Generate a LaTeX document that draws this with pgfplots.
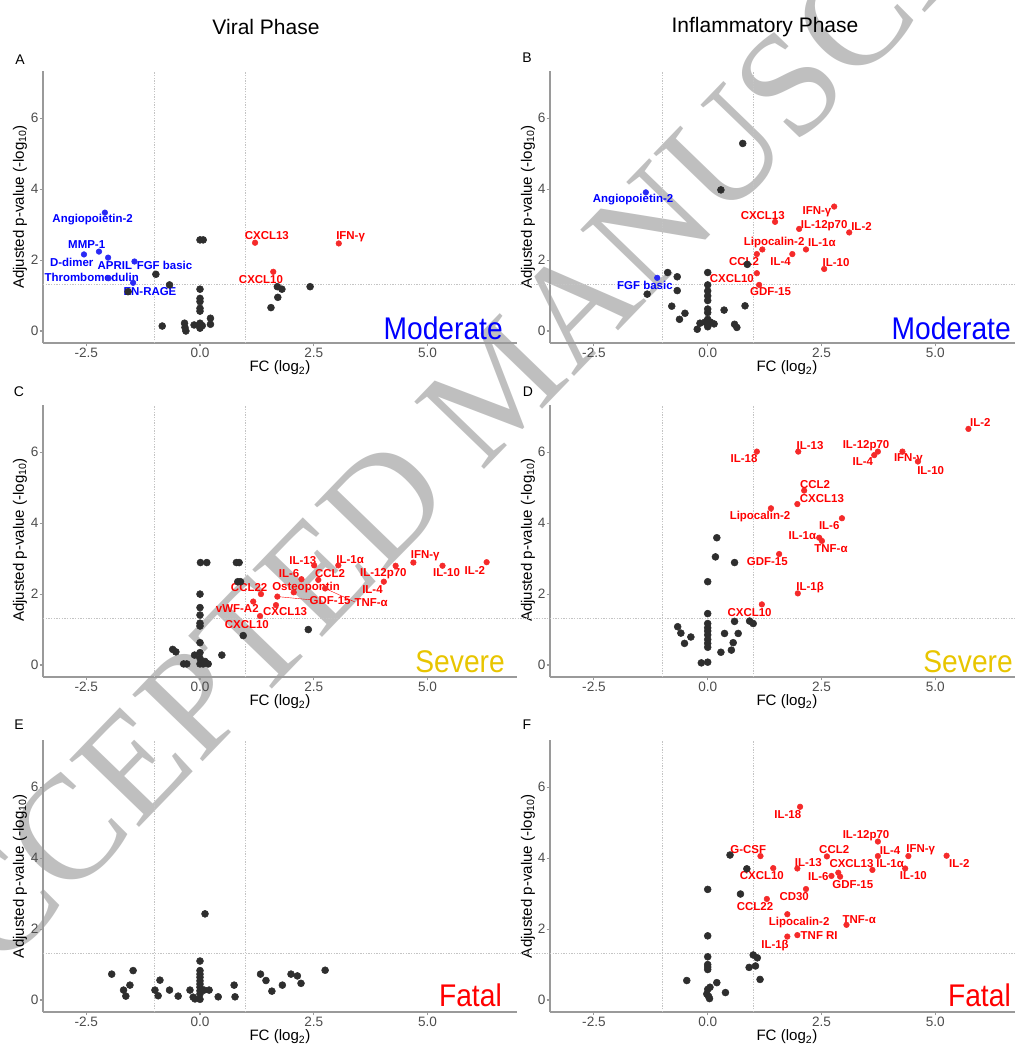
\documentclass[border=0pt]{standalone}
\usepackage{pgfplots}
\pgfplotsset{compat=1.18}
\usepackage{fontspec}
\setmainfont{Liberation Sans}
\newfontfamily\wmfont{Liberation Serif}
\definecolor{ptblack}{HTML}{2E2E2E}
\definecolor{ptred}{HTML}{F52A2A}
\definecolor{ptblue}{HTML}{2A2AF5}
\definecolor{txtred}{HTML}{FF0000}
\definecolor{txtblue}{HTML}{0000FF}
\definecolor{sevgold}{HTML}{E8C500}
\definecolor{axgray}{HTML}{9A9A9A}
\definecolor{refgray}{HTML}{C4C4C4}
\definecolor{ticktxt}{HTML}{4D4D4D}

\pgfplotsset{
  volc/.style={
    scale only axis, height=204pt, anchor=south west,
    ymin=-0.3385, ymax=7.334,
    axis x line*=bottom, axis y line*=left,
    axis line style={-, axgray, line width=1.1pt},
    xtick={-2.5,0,2.5,5}, xticklabels={-2.5,0.0,2.5,5.0},
    ytick={0,2,4,6}, yticklabels={0,2,4,6},
    tick align=outside, major tick length=2.5pt,
    tick style={axgray, line width=0.8pt},
    ticklabel style={font=\fontsize{10.2}{12}\selectfont, text=ticktxt},
    xticklabel style={inner sep=1pt},
    yticklabel style={inner sep=0.8pt},
    clip=false,
  },
  leftcol/.style={volc, width=355.5pt, xmin=-3.4505, xmax=6.967},
  rightcol/.style={volc, width=348.75pt, xmin=-3.466, xmax=6.754},
  blk/.style={only marks, color=ptblack, mark=*, mark size=2.6pt, mark options={draw=none, fill=ptblack}},
  rdp/.style={only marks, color=ptred, mark=*, mark size=2.1pt, mark options={draw=none, fill=ptred}},
  blp/.style={only marks, color=ptblue, mark=*, mark size=2.1pt, mark options={draw=none, fill=ptblue}},
}
\tikzset{
  lab/.style={font=\bfseries\fontsize{8.6}{10}\selectfont, inner sep=0pt},
  rl/.style={lab, text=txtred},
  bl/.style={lab, text=txtblue},
  refl/.style={refgray, dash pattern=on 1pt off 1pt, line width=0.6pt},
}
\newcommand{\reflinesL}{%
  \draw[refl] (axis cs:-1,-0.3385) -- (axis cs:-1,7.334);
  \draw[refl] (axis cs:1,-0.3385) -- (axis cs:1,7.334);
  \draw[refl] (axis cs:-3.4505,1.301) -- (axis cs:7.65,1.301);
}
\newcommand{\reflinesR}{%
  \draw[refl] (axis cs:-1,-0.3385) -- (axis cs:-1,7.334);
  \draw[refl] (axis cs:1,-0.3385) -- (axis cs:1,7.334);
  \draw[refl] (axis cs:-3.466,1.301) -- (axis cs:6.754,1.301);
}

\begin{document}
\begin{tikzpicture}
\begin{scope}[x=0.75pt, y=-0.75pt]
  \path[use as bounding box] (0,0) rectangle (1016,1045);
  \begin{scope}
    \clip (0,0) rectangle (1016,1045);
    \node[rotate=46, inner sep=0pt, font=\wmfont\fontsize{111}{113}\selectfont, text=black!25] at (500,384) {ACCEPTED MANUSCRIPT};
  \end{scope}
  % titles
  \node[font=\fontsize{15.75}{18}\selectfont] at (266,27) {Viral Phase};
  \node[font=\fontsize{15.75}{18}\selectfont] at (765,27) {Inflammatory Phase};
  % panel letters
  \node[font=\fontsize{10.5}{12}\selectfont] at (20,60) {A};
  \node[font=\fontsize{10.5}{12}\selectfont] at (527,58) {B};
  \node[font=\fontsize{10.5}{12}\selectfont] at (19,392) {C};
  \node[font=\fontsize{10.5}{12}\selectfont] at (528,392) {D};
  \node[font=\fontsize{10.5}{12}\selectfont] at (19,725) {E};
  \node[font=\fontsize{10.5}{12}\selectfont] at (527,725) {F};
  % axis titles
  \foreach \yy in {368,702,1037} {
    \node[font=\fontsize{11.3}{13}\selectfont] at (280,\yy) {FC (log\textsubscript{2})};
    \node[font=\fontsize{11.3}{13}\selectfont] at (787,\yy) {FC (log\textsubscript{2})};
  }
  \foreach \yy in {207,540,876} {
    \node[rotate=90, font=\fontsize{11.3}{13}\selectfont] at (20,\yy) {Adjusted p-value (-log\textsubscript{10})};
    \node[rotate=90, font=\fontsize{11.3}{13}\selectfont] at (528,\yy) {Adjusted p-value (-log\textsubscript{10})};
  }
\end{scope}

% ---------------- Panel A ----------------
\begin{axis}[leftcol, at={(32.25pt,-257.25pt)}]
\reflinesL
\addplot[blk] coordinates {(-1.58,1.11)(-0.97,1.60)(-0.67,1.30)(0.0,2.57)(0.07,2.57)(0,1.18)(0,0.92)(0,0.83)(0,0.64)(0,0.56)(0,0.22)(0,0.14)(0,0.08)(0.05,0.15)(-0.13,0.17)(-0.34,0.22)(-0.33,0.10)(-0.31,0.0)(-0.83,0.14)(0.23,0.36)(0.23,0.19)(1.56,0.66)(1.71,0.95)(1.70,1.25)(1.80,1.18)(2.42,1.25)};
\addplot[blp] coordinates {(-2.09,3.34)(-2.55,2.16)(-2.22,2.24)(-2.02,2.07)(-1.44,1.96)(-2.01,1.49)(-1.47,1.36)};
\addplot[rdp] coordinates {(1.21,2.49)(1.61,1.67)(3.05,2.47)};
\node[bl] at (axis cs:-2.36,3.13) {Angiopoietin-2};
\node[bl] at (axis cs:-2.49,2.43) {MMP-1};
\node[bl] at (axis cs:-2.82,1.93) {D-dimer};
\node[bl] at (axis cs:-1.87,1.86) {APRIL};
\node[bl] at (axis cs:-0.78,1.86) {FGF basic};
\node[bl] at (axis cs:-2.38,1.51) {Thrombomodulin};
\node[bl] at (axis cs:-1.10,1.11) {EN-RAGE};
\node[rl] at (axis cs:1.47,2.68) {CXCL13};
\node[rl] at (axis cs:3.31,2.66) {IFN-γ};
\node[rl] at (axis cs:1.34,1.44) {CXCL10};
\end{axis}

% ---------------- Panel B ----------------
\begin{axis}[rightcol, at={(412.5pt,-257.25pt)}]
\reflinesR
\addplot[blk] coordinates {(0.77,5.29)(0.29,3.98)(0.87,1.88)(-0.88,1.65)(-0.67,1.53)(-1.33,1.04)(-0.67,1.14)(-0.79,0.70)(-0.50,0.50)(-0.62,0.33)(0,1.65)(0,1.30)(0,1.13)(0,0.99)(0,0.86)(0,0.62)(0,0.52)(0,0.33)(0,0.23)(-0.06,0.25)(0.06,0.25)(-0.17,0.22)(0.14,0.20)(0,0.12)(-0.23,0.05)(0.36,0.59)(0.82,0.71)(0.59,0.19)(0.64,0.10)};
\addplot[blp] coordinates {(-1.36,3.91)(-1.11,1.50)};
\addplot[rdp] coordinates {(1.48,3.08)(2.78,3.51)(2.01,2.88)(3.11,2.78)(1.20,2.30)(2.16,2.30)(1.08,2.17)(1.86,2.17)(2.56,1.75)(1.08,1.63)(1.13,1.30)};
\node[bl] at (axis cs:-1.64,3.70) {Angiopoietin-2};
\node[bl] at (axis cs:-1.38,1.30) {FGF basic};
\node[rl] at (axis cs:1.21,3.27) {CXCL13};
\node[rl] at (axis cs:2.40,3.35) {IFN-γ};
\node[rl] at (axis cs:2.56,2.96) {IL-12p70};
\node[rl] at (axis cs:3.38,2.96) {IL-2};
\node[rl] at (axis cs:1.46,2.49) {Lipocalin-2};
\node[rl] at (axis cs:2.51,2.49) {IL-1α};
\node[rl] at (axis cs:0.80,1.96) {CCL2};
\node[rl] at (axis cs:1.60,1.96) {IL-4};
\node[rl] at (axis cs:2.82,1.93) {IL-10};
\node[rl] at (axis cs:0.53,1.49) {CXCL10};
\node[rl] at (axis cs:1.38,1.11) {GDF-15};
\end{axis}

% ---------------- Panel C ----------------
\begin{axis}[leftcol, at={(32.25pt,-507.75pt)}]
\reflinesL
\addplot[blk] coordinates {(0.01,2.89)(0.15,2.89)(0.80,2.89)(0.86,2.89)(0.83,2.35)(0.89,2.35)(0,2.0)(0,1.62)(0,1.41)(0,1.18)(0,1.10)(0,0.63)(0,0.35)(0,0.19)(0,0.03)(0.11,0.10)(0.18,0.03)(-0.12,0.28)(-0.60,0.44)(-0.53,0.37)(-0.36,0.03)(-0.29,0.03)(0.07,0.03)(0.48,0.28)(0.95,0.83)(2.38,1.0)};
\draw[txtred, line width=0.3pt] (axis cs:1.70,1.93) -- (axis cs:2.43,1.84);
\draw[txtred, line width=0.3pt] (axis cs:2.75,2.16) -- (axis cs:3.40,1.78);
\addplot[rdp] coordinates {(2.51,2.81)(3.04,2.81)(4.69,2.89)(5.33,2.80)(6.30,2.90)(4.30,2.80)(2.23,2.42)(2.60,2.40)(4.04,2.35)(2.06,2.05)(1.34,2.00)(1.70,1.93)(2.75,2.16)(1.17,1.79)(1.67,1.69)(1.32,1.38)};
\node[rl] at (axis cs:2.26,2.96) {IL-13};
\node[rl] at (axis cs:3.30,2.96) {IL-1α};
\node[rl] at (axis cs:4.95,3.08) {IFN-γ};
\node[rl] at (axis cs:4.03,2.59) {IL-12p70};
\node[rl] at (axis cs:5.42,2.60) {IL-10};
\node[rl] at (axis cs:6.04,2.68) {IL-2};
\node[rl] at (axis cs:1.96,2.59) {IL-6};
\node[rl] at (axis cs:2.86,2.59) {CCL2};
\node[rl] at (axis cs:3.79,2.12) {IL-4};
\node[rl] at (axis cs:2.33,2.18) {Osteopontin};
\node[rl] at (axis cs:1.08,2.18) {CCL22};
\node[rl] at (axis cs:2.86,1.83) {GDF-15};
\node[rl] at (axis cs:3.76,1.77) {TNF-α};
\node[rl] at (axis cs:0.82,1.58) {vWF-A2};
\node[rl] at (axis cs:1.87,1.50) {CXCL13};
\node[rl] at (axis cs:1.03,1.13) {CXCL10};
\end{axis}

% ---------------- Panel D ----------------
\begin{axis}[rightcol, at={(412.5pt,-507.75pt)}]
\reflinesR
\addplot[blk] coordinates {(0.20,3.59)(0.17,3.05)(0.59,2.89)(0,2.35)(0,1.45)(0,1.17)(0,1.05)(0,0.96)(0,0.85)(0,0.72)(0,0.61)(0,0.50)(0,0.08)(-0.14,0.06)(-0.66,1.08)(-0.59,0.90)(-0.51,0.61)(-0.37,0.79)(0.37,0.89)(0.59,1.23)(0.67,0.89)(0.56,0.63)(0.52,0.42)(0.29,0.36)(0.92,1.24)(1.0,1.17)};
\addplot[rdp] coordinates {(5.73,6.66)(1.08,6.02)(1.99,6.02)(3.74,6.02)(3.66,5.92)(4.28,6.02)(4.62,5.74)(2.12,4.92)(1.97,4.54)(1.39,4.42)(2.95,4.14)(2.45,3.59)(2.51,3.50)(1.57,3.13)(1.98,2.02)(1.19,1.71)};
\node[rl] at (axis cs:5.99,6.84) {IL-2};
\node[rl] at (axis cs:0.80,5.81) {IL-18};
\node[rl] at (axis cs:2.25,6.19) {IL-13};
\node[rl] at (axis cs:3.48,6.19) {IL-12p70};
\node[rl] at (axis cs:3.41,5.74) {IL-4};
\node[rl] at (axis cs:4.41,5.83) {IFN-γ};
\node[rl] at (axis cs:4.90,5.48) {IL-10};
\node[rl] at (axis cs:2.36,5.10) {CCL2};
\node[rl] at (axis cs:2.51,4.70) {CXCL13};
\node[rl] at (axis cs:1.15,4.20) {Lipocalin-2};
\node[rl] at (axis cs:2.67,3.93) {IL-6};
\node[rl] at (axis cs:2.08,3.64) {IL-1α};
\node[rl] at (axis cs:2.71,3.29) {TNF-α};
\node[rl] at (axis cs:1.31,2.93) {GDF-15};
\node[rl] at (axis cs:2.25,2.18) {IL-1β};
\node[rl] at (axis cs:0.92,1.49) {CXCL10};
\end{axis}

% ---------------- Panel E ----------------
\begin{axis}[leftcol, at={(32.25pt,-759pt)}]
\reflinesL
\addplot[blk] coordinates {(0.11,2.43)(-1.94,0.73)(-1.47,0.83)(-1.54,0.42)(-1.68,0.28)(-1.63,0.11)(-0.88,0.56)(-0.99,0.28)(-0.92,0.12)(-0.67,0.28)(-0.48,0.11)(-0.22,0.28)(-0.15,0.08)(-0.11,0.03)(0,1.10)(0,0.83)(0,0.73)(0,0.64)(0,0.54)(0,0.45)(0,0.36)(0,0.26)(0,0.17)(0,0.02)(0.09,0.28)(0.20,0.28)(0.40,0.09)(0.75,0.42)(0.77,0.09)(1.33,0.73)(1.45,0.55)(1.58,0.25)(1.81,0.42)(2.0,0.73)(2.14,0.68)(2.22,0.47)(2.75,0.84)};
\end{axis}

% ---------------- Panel F ----------------
\begin{axis}[rightcol, at={(412.5pt,-759pt)}]
\reflinesR
\addplot[blk] coordinates {(0.49,4.09)(0.86,3.70)(0,3.12)(0.72,2.99)(0,1.81)(0,1.22)(0,1.00)(0,0.93)(0,0.86)(-0.46,0.55)(0.20,0.49)(0.39,0.21)(0,0.30)(0.05,0.36)(-0.02,0.17)(0.04,0.04)(0.02,0.10)(1.0,1.27)(1.09,1.19)(0.91,0.92)(1.05,0.96)(1.15,0.58)};
\addplot[rdp] coordinates {(2.03,5.45)(3.74,4.47)(3.74,4.06)(4.41,4.06)(5.25,4.07)(2.62,4.05)(1.16,4.06)(1.97,3.71)(1.44,3.72)(3.62,3.67)(4.34,3.71)(2.72,3.50)(2.87,3.59)(2.91,3.48)(2.16,3.13)(1.30,2.85)(1.75,2.42)(3.05,2.12)(1.97,1.83)(1.75,1.79)};
\node[rl] at (axis cs:1.76,5.24) {IL-18};
\node[rl] at (axis cs:3.48,4.64) {IL-12p70};
\node[rl] at (axis cs:2.78,4.25) {CCL2};
\node[rl] at (axis cs:4.01,4.21) {IL-4};
\node[rl] at (axis cs:4.68,4.23) {IFN-γ};
\node[rl] at (axis cs:0.89,4.25) {G-CSF};
\node[rl] at (axis cs:2.21,3.88) {IL-13};
\node[rl] at (axis cs:3.16,3.86) {CXCL13};
\node[rl] at (axis cs:4.01,3.86) {IL-1α};
\node[rl] at (axis cs:5.53,3.86) {IL-2};
\node[rl] at (axis cs:1.19,3.51) {CXCL10};
\node[rl] at (axis cs:2.43,3.48) {IL-6};
\node[rl] at (axis cs:4.52,3.51) {IL-10};
\node[rl] at (axis cs:3.19,3.26) {GDF-15};
\node[rl] at (axis cs:1.90,2.91) {CD30};
\node[rl] at (axis cs:1.04,2.63) {CCL22};
\node[rl] at (axis cs:2.01,2.19) {Lipocalin-2};
\node[rl] at (axis cs:3.33,2.28) {TNF-α};
\node[rl] at (axis cs:2.45,1.83) {TNF RI};
\node[rl] at (axis cs:1.48,1.55) {IL-1β};
\end{axis}

% category labels
\begin{scope}[x=0.75pt, y=-0.75pt]
  \node[anchor=base east, inner sep=0pt, xscale=0.9, font=\fontsize{23.5}{26}\selectfont, text=txtblue] at (503,339) {Moderate};
  \node[anchor=base east, inner sep=0pt, xscale=0.9, font=\fontsize{23.5}{26}\selectfont, text=txtblue] at (1011,339) {Moderate};
  \node[anchor=base east, inner sep=0pt, xscale=0.9, font=\fontsize{23.5}{26}\selectfont, text=sevgold] at (505,672) {Severe};
  \node[anchor=base east, inner sep=0pt, xscale=0.9, font=\fontsize{23.5}{26}\selectfont, text=sevgold] at (1013,672) {Severe};
  \node[anchor=base east, inner sep=0pt, xscale=0.9, font=\fontsize{23.5}{26}\selectfont, text=txtred] at (502,1006) {Fatal};
  \node[anchor=base east, inner sep=0pt, xscale=0.9, font=\fontsize{23.5}{26}\selectfont, text=txtred] at (1011,1006) {Fatal};
\end{scope}
\end{tikzpicture}
\end{document}
